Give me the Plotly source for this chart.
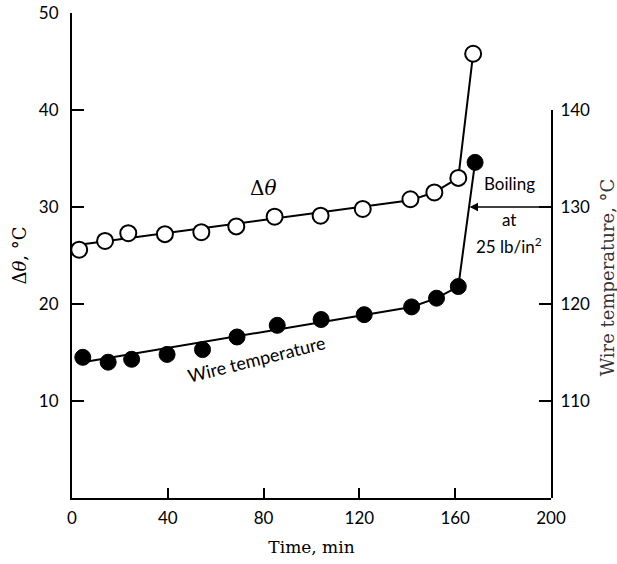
import plotly.graph_objects as go

# --- data ---
time_delta = [3.0, 13.8, 23.5, 38.8, 54.0, 68.6, 84.6, 103.8, 121.4, 141.3, 151.3, 161.3, 167.5]
delta_theta = [25.6, 26.5, 27.3, 27.2, 27.4, 28.0, 29.0, 29.1, 29.8, 30.8, 31.5, 33.0, 45.8]

time_wire = [4.5, 15.1, 24.9, 39.7, 54.5, 68.9, 85.7, 104.0, 122.0, 141.8, 152.2, 161.3, 168.3]
wire_temp = [114.5, 114.0, 114.3, 114.8, 115.3, 116.6, 117.8, 118.4, 118.9, 119.7, 120.6, 121.8, 134.6]

# drawn (fitted) curves through the points
delta_fit_t = [3.0, 141.3, 151.3, 161.3, 167.5]
delta_fit = [26.1, 30.7, 31.5, 33.0, 45.8]
wire_fit_t = [4.5, 141.8, 152.2, 161.3, 168.3]
wire_fit = [114.0, 119.7, 120.6, 121.8, 134.6]

x_ticks = [0, 40, 80, 120, 160, 200]
y_left_ticks = [10, 20, 30, 40, 50]
y_right_ticks = [110, 120, 130, 140]

SANS = "Lato, 'Open Sans', sans-serif"
SERIF = "'DejaVu Serif', 'Liberation Serif', serif"

fig = go.Figure()

fig.add_trace(go.Scatter(x=wire_fit_t, y=wire_fit, mode="lines",
                         line=dict(color="black", width=2), yaxis="y2", showlegend=False))
fig.add_trace(go.Scatter(x=time_wire, y=wire_temp, mode="markers",
                         marker=dict(symbol="circle", size=16, color="black",
                                     line=dict(color="black", width=1)),
                         yaxis="y2", showlegend=False, cliponaxis=False))

fig.add_trace(go.Scatter(x=delta_fit_t, y=delta_fit, mode="lines",
                         line=dict(color="black", width=2), yaxis="y", showlegend=False))
fig.add_trace(go.Scatter(x=time_delta, y=delta_theta, mode="markers",
                         marker=dict(symbol="circle", size=16, color="white",
                                     line=dict(color="black", width=2)),
                         yaxis="y", showlegend=False, cliponaxis=False))

fig.update_layout(
    width=617, height=564, autosize=False,
    margin=dict(l=72, r=66, t=13, b=66),
    paper_bgcolor="white", plot_bgcolor="rgba(0,0,0,0)",
    xaxis=dict(range=[0, 200], tickvals=x_ticks, ticktext=[str(v) for v in x_ticks],
               showline=True, linecolor="black", linewidth=2, automargin=False,
               ticks="inside", ticklen=10, tickwidth=2, tickcolor="black",
               showgrid=False, zeroline=False, anchor="y",
               tickfont=dict(family=SANS, size=17, color="black"),
               ticklabelstandoff=4,
               title=dict(text="Time, min", font=dict(family=SERIF, size=17, color="black"),
                          standoff=14)),
    yaxis=dict(range=[0, 50], domain=[0, 1], tickvals=y_left_ticks, automargin=False,
               showline=True, linecolor="black", linewidth=2,
               ticks="inside", ticklen=12, tickwidth=2, tickcolor="black",
               showgrid=False, zeroline=False, anchor="x",
               tickfont=dict(family=SANS, size=17, color="black"),
               ticklabelstandoff=8,
               title=dict(text="Δ<i>θ</i>, °C", font=dict(family=SERIF, size=18, color="black"),
                          standoff=8)),
    yaxis2=dict(range=[100, 140], domain=[0, 0.8], tickvals=y_right_ticks, side="right",
                showline=True, linecolor="black", linewidth=2, mirror=False, automargin=False,
                ticks="inside", ticklen=12, tickwidth=2, tickcolor="black",
                showgrid=False, zeroline=False, anchor="x",
                tickfont=dict(family=SANS, size=17, color="black"),
                ticklabelstandoff=4),
)

# right axis title (placed as annotation so it can sit where the reference has it)
fig.add_annotation(x=1, y=0.455, xref="paper", yref="paper", xshift=56,
                   text="Wire temperature, °C", textangle=-90, showarrow=False,
                   xanchor="center", yanchor="middle",
                   font=dict(family=SERIF, size=18, color="#333333"))

fig.add_annotation(x=80, y=32.0, xref="x", yref="y", text="Δ<i>θ</i>", showarrow=False,
                   font=dict(family=SERIF, size=20, color="black"))
fig.add_annotation(x=77, y=14.3, xref="x", yref="y", text="Wire temperature", showarrow=False,
                   textangle=-14, font=dict(family=SANS, size=18, color="black"))

fig.add_annotation(x=166, y=130, xref="x", yref="y2", ax=200, ay=130, axref="x", ayref="y2",
                   text="", showarrow=True, arrowhead=2, arrowsize=1.3, arrowwidth=1.3,
                   arrowcolor="black", standoff=0)
fig.add_annotation(x=182.5, y=32.4, xref="x", yref="y", text="Boiling", showarrow=False,
                   font=dict(family=SANS, size=17, color="black"))
fig.add_annotation(x=182.5, y=28.7, xref="x", yref="y", text="at", showarrow=False,
                   font=dict(family=SANS, size=17, color="black"))
fig.add_annotation(x=182.5, y=26.0, xref="x", yref="y", text="25 lb/in<sup>2</sup>",
                   showarrow=False, font=dict(family=SANS, size=17, color="black"))

fig.write_html("out.html")
